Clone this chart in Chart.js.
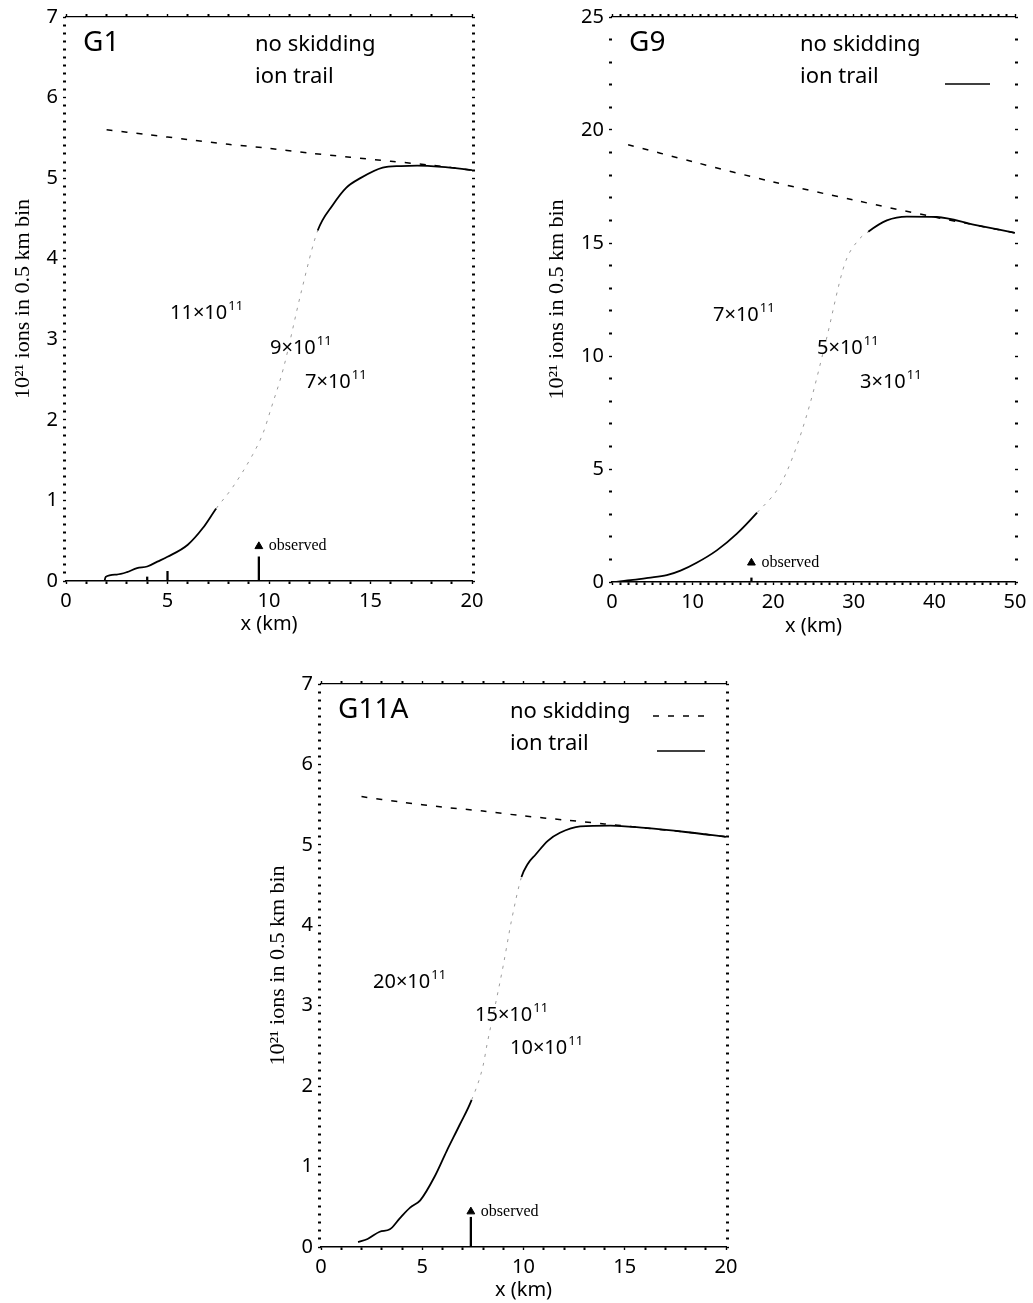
<!DOCTYPE html>
<html>
<head>
<meta charset="utf-8">
<script src="https://cdn.jsdelivr.net/npm/chart.js@4/dist/chart.umd.min.js"></script>
<style>
  body { margin: 0; background: #fff; }
  #wrap { position: relative; width: 1033px; height: 1303px; }
  canvas { position: absolute; }
</style>
</head>
<body>
<div id="wrap">
  <canvas id="g1" width="510" height="640" style="left:0;top:0"></canvas>
  <canvas id="g9" width="493" height="642" style="left:540px;top:0"></canvas>
  <canvas id="g11" width="500" height="636" style="left:250px;top:667px"></canvas>
</div>
<script>
// ---- data ----
// G1
const g1XTicks = [0, 5, 10, 15, 20];
const g1YTicks = [0, 1, 2, 3, 4, 5, 6, 7];
const g1NoSkidX = [2, 4, 6, 8, 10, 12, 14, 16, 18, 20];
const g1NoSkidY = [5.60, 5.54, 5.48, 5.42, 5.37, 5.31, 5.26, 5.21, 5.16, 5.10];
const g1TrailX = [1.9, 1.95, 2.5, 3.0, 3.5, 4.0, 4.5, 5.0, 6.0, 6.75, 7.4, 8.2, 9.2, 9.7, 10.1, 10.7, 11.6, 12.4, 13.15, 13.8, 14.5, 15.6, 16.5, 17.3, 18.5, 20];
const g1TrailY = [0, 0.05, 0.08, 0.11, 0.16, 0.18, 0.24, 0.30, 0.45, 0.66, 0.90, 1.16, 1.57, 1.83, 2.14, 2.63, 3.60, 4.35, 4.67, 4.88, 5.00, 5.13, 5.15, 5.155, 5.14, 5.10];
const g1ObsX = [4, 5, 9.5];
const g1ObsY = [0.05, 0.12, 0.30];
const g1Marker = [9.5, 0.43];
const g1Curves = ["11", "9", "7"];

// G9
const g9XTicks = [0, 10, 20, 30, 40, 50];
const g9YTicks = [0, 5, 10, 15, 20, 25];
const g9NoSkidX = [2, 10, 20, 30, 40, 50];
const g9NoSkidY = [19.35, 18.6, 17.7, 16.9, 16.15, 15.45];
const g9TrailX = [0.2, 2.6, 4.5, 6.8, 8.5, 10.5, 13, 15.5, 18, 20.8, 22.5, 24.5, 26.5, 28.9, 30.5, 31.8, 34.1, 36.6, 40.3, 45, 50];
const g9TrailY = [0, 0.09, 0.18, 0.30, 0.50, 0.85, 1.40, 2.14, 3.07, 4.25, 5.6, 7.8, 10.6, 14.1, 15.1, 15.5, 16.0, 16.17, 16.15, 15.8, 15.45];
const g9ObsX = [17.3];
const g9ObsY = [0.18];
const g9Marker = [17.3, 0.85];
const g9Curves = ["7", "5", "3"];

// G11A
const g11XTicks = [0, 5, 10, 15, 20];
const g11YTicks = [0, 1, 2, 3, 4, 5, 6, 7];
const g11NoSkidX = [2, 4, 6, 8, 10, 12, 14, 16, 18, 20];
const g11NoSkidY = [5.60, 5.53, 5.47, 5.42, 5.36, 5.31, 5.26, 5.21, 5.16, 5.10];
const g11TrailX = [1.83, 2.3, 2.9, 3.4, 3.9, 4.4, 4.9, 5.6, 6.2, 6.85, 7.44, 8.0, 8.2, 8.6, 9.0, 9.4, 9.9, 10.2, 10.6, 11.2, 11.8, 12.8, 14.3, 16, 18, 20];
const g11TrailY = [0.06, 0.10, 0.19, 0.22, 0.36, 0.49, 0.58, 0.87, 1.19, 1.52, 1.83, 2.25, 2.52, 3.0, 3.5, 4.05, 4.6, 4.76, 4.88, 5.05, 5.15, 5.23, 5.24, 5.21, 5.16, 5.10];
const g11ObsX = [7.4];
const g11ObsY = [0.37];
const g11Marker = [7.4, 0.44];
const g11Curves = ["20", "15", "10"];

const SANS = '"Noto Sans", sans-serif';
const SERIF = '"Liberation Serif", serif';

const pts = (xs, ys) => xs.map((x, i) => ({ x, y: ys[i] }));
const isMajor = (v, list) => list.some(m => Math.abs(m - v) < 1e-6);

// draws panel name, legend, curve labels and the "observed" note
const panelText = {
  id: "panelText",
  afterDatasetsDraw(chart, args, o) {
    const { ctx, chartArea: a, scales } = chart;
    ctx.save();
    ctx.fillStyle = "#000";
    ctx.strokeStyle = "#000";
    ctx.textBaseline = "alphabetic";

    ctx.font = "28px " + SANS;
    ctx.fillText(o.name, a.left + 17, a.top + 34);

    ctx.font = "22px " + SANS;
    ctx.fillText("no skidding", a.left + o.legX, a.top + 34);
    ctx.fillText("ion trail", a.left + o.legX, a.top + 66);

    if (o.dashSample) {
      ctx.lineWidth = 1.5;
      ctx.setLineDash([6, 9]);
      ctx.beginPath();
      ctx.moveTo(a.left + o.dashSample[0], a.top + 32);
      ctx.lineTo(a.left + o.dashSample[1], a.top + 32);
      ctx.stroke();
    }
    if (o.solidSample) {
      ctx.lineWidth = 1.6;
      ctx.setLineDash([]);
      ctx.beginPath();
      ctx.moveTo(a.left + o.solidSample[0], a.top + 67);
      ctx.lineTo(a.left + o.solidSample[1], a.top + 67);
      ctx.stroke();
    }

    // curve labels  N×10^11
    o.curves.forEach((c, i) => {
      const x = a.left + o.curvePos[i][0];
      const y = a.top + o.curvePos[i][1];
      ctx.font = "20px " + SANS;
      const base = c + "×10";
      ctx.fillText(base, x, y);
      const w = ctx.measureText(base).width;
      ctx.font = "13px " + SANS;
      ctx.fillText("11", x + w + 1, y - 9);
    });

    // observed note next to the marker
    const mx = scales.x.getPixelForValue(o.marker[0]);
    const my = scales.y.getPixelForValue(o.marker[1]);
    ctx.font = "16px " + SERIF;
    ctx.fillText("observed", mx + 10, my + 4);
    ctx.restore();
  }
};

function makePanel(id, p) {
  const tickFont = { family: SANS, size: 20 };
  const grid = major => ({
    drawOnChartArea: false,
    drawTicks: true,
    tickLength: 3,
    color: "#000",
    tickWidth: c => (c.tick && isMajor(c.tick.value, major) ? 1.4 : 2)
  });
  const labelOnly = list => v => (isMajor(v, list) ? String(Math.round(v)) : "");
  const blank = () => "";

  const faint = c => c.p0.parsed.x >= p.faint[0] && c.p1.parsed.x <= p.faint[1];

  return new Chart(document.getElementById(id), {
    type: "line",
    data: {
      datasets: [
        {
          label: "no skidding",
          data: pts(p.noSkidX, p.noSkidY),
          borderColor: "#000",
          borderWidth: 1.5,
          borderDash: [6, 9],
          pointRadius: 0,
          tension: 0.3
        },
        {
          label: "ion trail",
          data: pts(p.trailX, p.trailY),
          borderColor: "#000",
          borderWidth: 1.8,
          pointRadius: 0,
          cubicInterpolationMode: "monotone",
          segment: {
            borderColor: c => (faint(c) ? "#9c9c9c" : undefined),
            borderDash: c => (faint(c) ? [3, 6] : undefined),
            borderWidth: c => (faint(c) ? 1 : undefined)
          }
        },
        {
          type: "bar",
          label: "observed",
          data: pts(p.obsX, p.obsY),
          backgroundColor: "#000",
          barThickness: 1.6
        },
        {
          label: "observed marker",
          data: [{ x: p.marker[0], y: p.marker[1] }],
          showLine: false,
          pointStyle: "triangle",
          pointRadius: 4.5,
          pointBackgroundColor: "#000",
          pointBorderColor: "#000"
        }
      ]
    },
    options: {
      responsive: false,
      animation: false,
      devicePixelRatio: 1,
      layout: { padding: { left: p.padL, right: 0, top: 0, bottom: 0 } },
      plugins: {
        legend: { display: false },
        tooltip: { enabled: false },
        panelText: {
          name: p.name, legX: p.legX, dashSample: p.dashSample, solidSample: p.solidSample,
          curves: p.curves, curvePos: p.curvePos, marker: p.marker
        }
      },
      scales: {
        x: {
          type: "linear", position: "bottom", min: p.xMin, max: p.xMax, offset: false,
          afterFit: s => { s.height = p.xH; },
          ticks: { stepSize: p.xStep, autoSkip: false, maxRotation: 0, padding: 5, color: "#000", font: tickFont, callback: labelOnly(p.xTicks) },
          grid: Object.assign(grid(p.xTicks), { offset: false }),
          border: { display: true, color: "#000", width: 1.4 },
          title: { display: true, text: "x (km)", color: "#000", font: { family: SANS, size: 20 }, padding: { top: 0, bottom: p.xTitlePad } }
        },
        x2: {
          type: "linear", position: "top", min: p.xMin, max: p.xMax, offset: false,
          afterFit: s => { s.height = 11; },
          ticks: { stepSize: p.xStep, autoSkip: false, maxRotation: 0, callback: blank },
          grid: grid(p.xTicks),
          border: { display: true, color: "#000", width: 1.2 }
        },
        y: {
          type: "linear", position: "left", min: p.yMin, max: p.yMax,
          afterFit: s => { s.width = p.yW; },
          ticks: { stepSize: p.yStep, autoSkip: false, maxTicksLimit: 1000, padding: 5, color: "#000", font: tickFont, callback: labelOnly(p.yTicks) },
          grid: grid(p.yTicks),
          border: { display: false },
          title: { display: true, text: "10²¹ ions in 0.5 km bin", color: "#000", font: { family: SERIF, size: 22 } }
        },
        y2: {
          type: "linear", position: "right", min: p.yMin, max: p.yMax,
          afterFit: s => { s.width = p.y2W; },
          ticks: { stepSize: p.yStep, autoSkip: false, maxTicksLimit: 1000, callback: blank },
          grid: grid(p.yTicks),
          border: { display: false }
        }
      }
    },
    plugins: [panelText]
  });
}

makePanel("g1", {
  name: "G1", xMin: 0, xMax: 20, xStep: 1, xTicks: g1XTicks,
  yMin: 0, yMax: 7, yStep: 0.1, yTicks: g1YTicks,
  noSkidX: g1NoSkidX, noSkidY: g1NoSkidY, trailX: g1TrailX, trailY: g1TrailY,
  obsX: g1ObsX, obsY: g1ObsY, marker: g1Marker, faint: [6.9, 12.5],
  curves: g1Curves, curvePos: [[104, 302], [204, 337], [239, 371]],
  legX: 189, dashSample: null, solidSample: null,
  padL: 6, yW: 60, y2W: 38, xH: 59, xTitlePad: 4
});

makePanel("g9", {
  name: "G9", xMin: 0, xMax: 50, xStep: 1, xTicks: g9XTicks,
  yMin: 0, yMax: 25, yStep: 1, yTicks: g9YTicks,
  noSkidX: g9NoSkidX, noSkidY: g9NoSkidY, trailX: g9TrailX, trailY: g9TrailY,
  obsX: g9ObsX, obsY: g9ObsY, marker: g9Marker, faint: [18, 31.8],
  curves: g9Curves, curvePos: [[101, 304], [205, 337], [248, 371]],
  legX: 188, dashSample: null, solidSample: [333, 378],
  padL: 0, yW: 72, y2W: 18, xH: 60, xTitlePad: 4
});

makePanel("g11", {
  name: "G11A", xMin: 0, xMax: 20, xStep: 1, xTicks: g11XTicks,
  yMin: 0, yMax: 7, yStep: 0.1, yTicks: g11YTicks,
  noSkidX: g11NoSkidX, noSkidY: g11NoSkidY, trailX: g11TrailX, trailY: g11TrailY,
  obsX: g11ObsX, obsY: g11ObsY, marker: g11Marker, faint: [7.44, 9.9],
  curves: g11Curves, curvePos: [[52, 304], [154, 337], [189, 370]],
  legX: 189, dashSample: [332, 384], solidSample: [336, 384],
  padL: 11, yW: 60, y2W: 24, xH: 56, xTitlePad: 1
});
</script>
</body>
</html>
